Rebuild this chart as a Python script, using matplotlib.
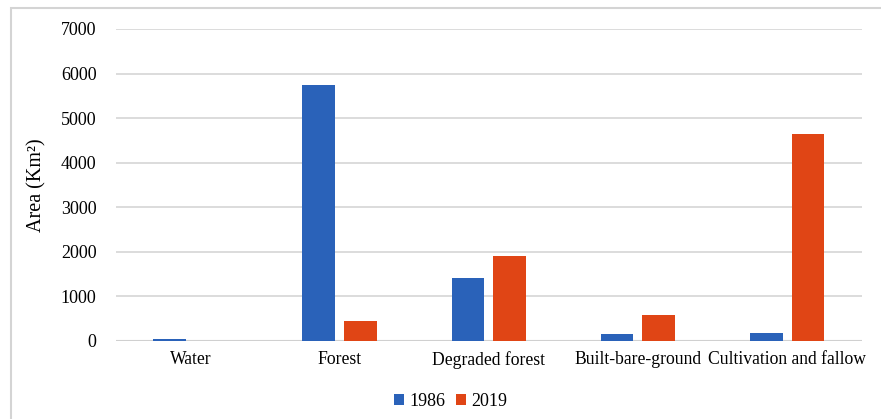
import numpy as np
import matplotlib.pyplot as plt
from matplotlib.patches import Rectangle

plt.rcParams['font.family'] = ['Liberation Serif', 'DejaVu Serif']

# land cover classes and area (Km2)
categories = ['Water', 'Forest', 'Degraded forest', 'Built-bare-ground', 'Cultivation and fallow']
area_1986 = [50, 5750, 1410, 150, 190]
area_2019 = [0, 450, 1900, 580, 4640]

blue = '#2a62b9'
orange = '#e04515'

fig = plt.figure(figsize=(8.81, 4.19), dpi=100)
# light frame round the chart, cut off on the right and bottom
fig.patches.append(Rectangle((11/881, -0.1), 1.2, 1.1 - 8/419, transform=fig.transFigure,
                             fill=False, edgecolor='#d4d4d4', linewidth=1.5))
ax = fig.add_axes([0.1317, 0.1862, 0.8463, 0.7446])

x = np.arange(len(categories))
w = 0.22
ax.bar(x - 0.14, area_1986, w, color=blue, label='1986', zorder=3)
ax.bar(x + 0.14, area_2019, w, color=orange, label='2019', zorder=3)

ax.set_xlim(-0.5, len(categories) - 0.5)
ax.set_ylim(0, 7000)
ax.set_yticks(np.arange(0, 7001, 1000))
ax.yaxis.grid(True, color='#d9d9d9', linewidth=1.3, zorder=0)
ax.axhline(0, color='#d0d0d0', linewidth=1.5, zorder=2)
for s in ax.spines.values():
    s.set_visible(False)
ax.tick_params(axis='y', length=0, labelsize=13, pad=14)
ax.tick_params(axis='x', length=0, labelsize=12.7, pad=7)
ax.set_xticks(x)
ax.set_xticklabels(categories)
ax.set_ylabel('Area (Km²)', fontsize=14.5, labelpad=10)

ax.legend(loc='upper center', bbox_to_anchor=(0.449, -0.115), ncol=2, frameon=False,
          fontsize=13, handlelength=0.55, handleheight=0.55, handletextpad=0.3,
          columnspacing=0.6)

plt.savefig('out.png', dpi=100)
